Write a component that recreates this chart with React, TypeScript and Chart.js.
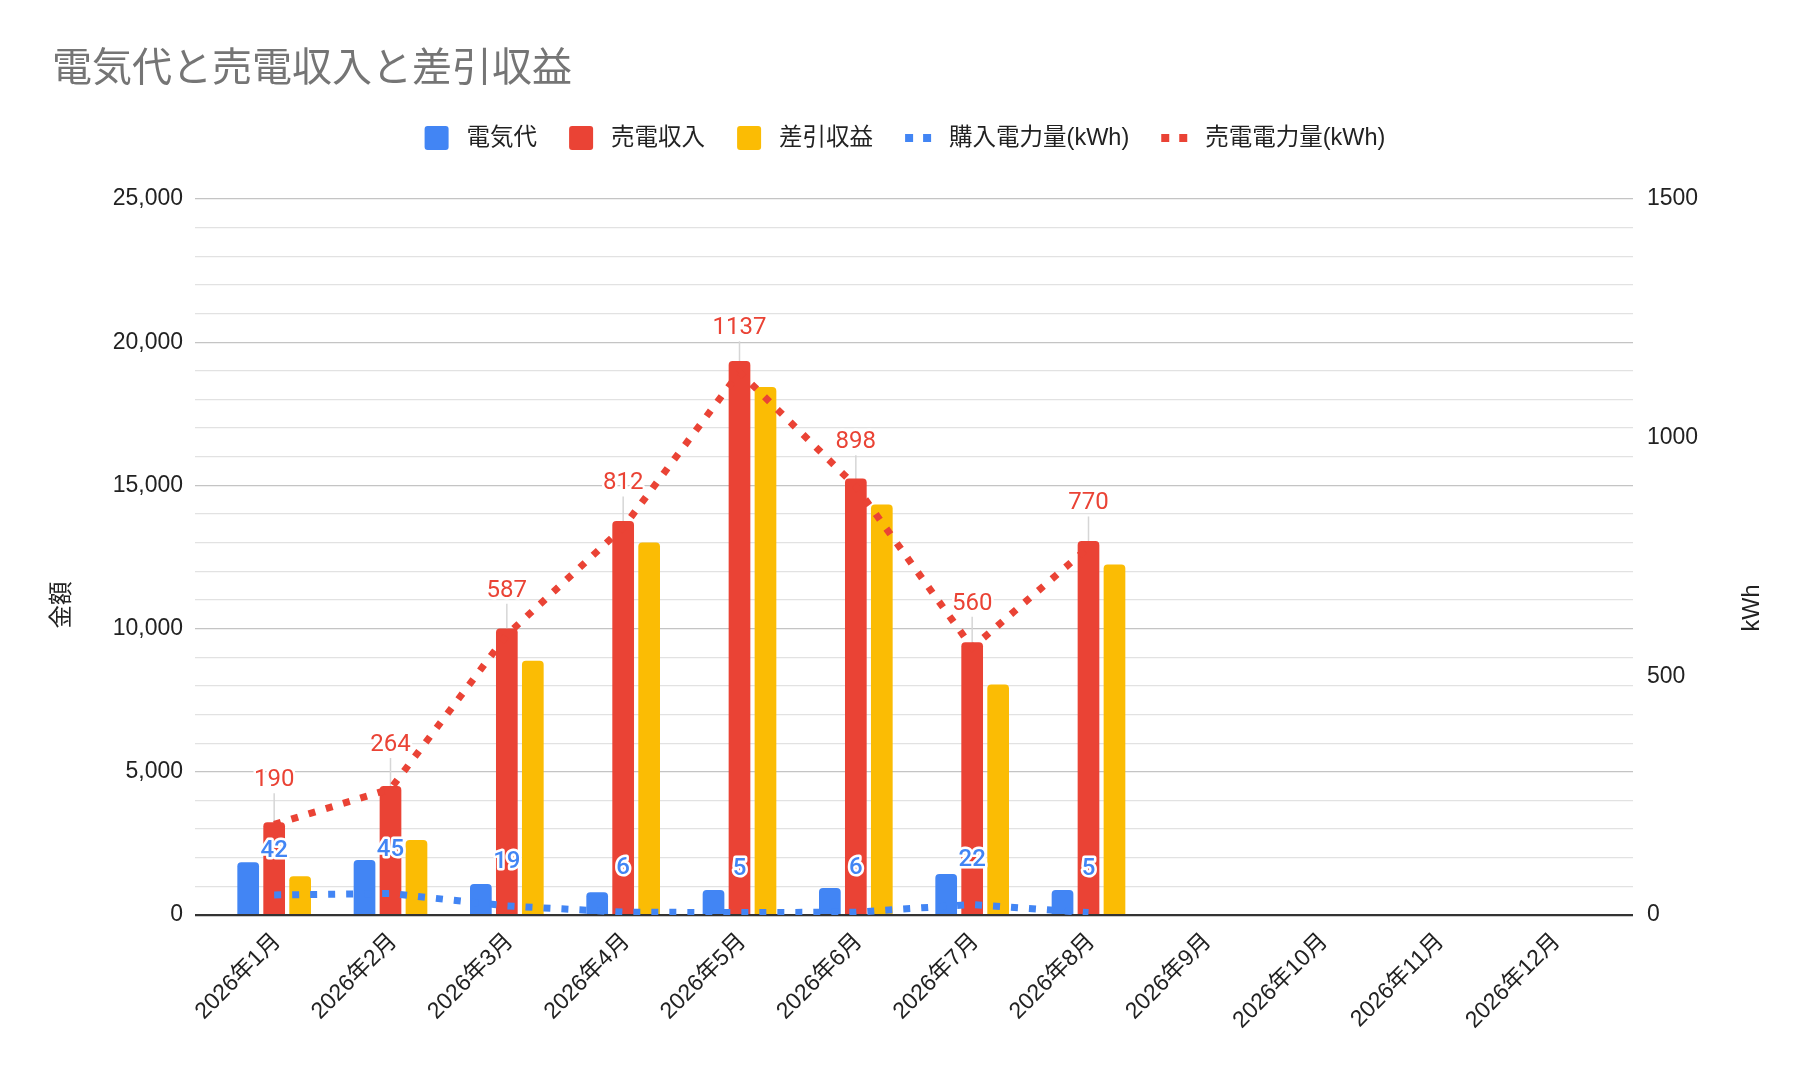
import React, { useEffect, useRef } from 'react';
import { Chart, registerables, CategoryScale } from 'chart.js';

Chart.register(...registerables);

// ---------------- data ----------------
const chartTitle = '電気代と売電収入と差引収益';
const leftAxisTitle = '金額';
const rightAxisTitle = 'kWh';

const months = [
  '2026年1月', '2026年2月', '2026年3月', '2026年4月', '2026年5月', '2026年6月',
  '2026年7月', '2026年8月', '2026年9月', '2026年10月', '2026年11月', '2026年12月',
];

const seriesNames = ['電気代', '売電収入', '差引収益', '購入電力量(kWh)', '売電電力量(kWh)'];

const electricityCost = [1840, 1920, 1080, 790, 870, 940, 1430, 870, null, null, null, null];
const sellIncome = [3235, 4500, 10000, 13760, 19345, 15240, 9520, 13060, null, null, null, null];
const netProfit = [1350, 2620, 8875, 13005, 18440, 14330, 8050, 12240, null, null, null, null];
const purchasedKWh = [42, 45, 19, 6, 5, 6, 22, 5, null, null, null, null];
const soldKWh = [190, 264, 587, 812, 1137, 898, 560, 770, null, null, null, null];

const leftAxisMax = 25000;
const leftMinorStep = 1000;
const leftMajorStep = 5000;
const rightAxisMax = 1500;
const rightStep = 500;

// ---------------- style ----------------
const BLUE = '#4285F4';
const RED = '#EA4335';
const YELLOW = '#FBBC04';
const TEXT = '#222222';
const LATIN = "'Liberation Sans', 'Noto Sans CJK JP', sans-serif";
const CJK = "'Noto Sans CJK JP', 'Liberation Sans', sans-serif";
const X_EDGE_PAD = 21;

class PaddedCategoryScale extends CategoryScale {
  static id = 'paddedCategory';
  configure() {
    super.configure();
    const self = this as any;
    self._startPixel += X_EDGE_PAD;
    self._endPixel -= X_EDGE_PAD;
    self._length = self._endPixel - self._startPixel;
  }
}
Chart.register(PaddedCategoryScale as any);

const LABEL_OFFSET = 44;

const decorPlugin = {
  id: 'decor',
  beforeDraw(chart: any) {
    const { ctx, width, height } = chart;
    ctx.save();
    ctx.fillStyle = '#ffffff';
    ctx.fillRect(0, 0, width, height);
    ctx.restore();
  },
  beforeDatasetsDraw(chart: any) {
    const { ctx } = chart;
    ctx.save();
    ctx.strokeStyle = '#d6d6d6';
    ctx.lineWidth = 1.5;
    chart.data.datasets.forEach((ds: any, i: number) => {
      if (ds.type !== 'line') return;
      const meta = chart.getDatasetMeta(i);
      meta.data.forEach((pt: any, j: number) => {
        if (ds.data[j] == null || pt.skip) return;
        ctx.beginPath();
        ctx.moveTo(pt.x, pt.y - LABEL_OFFSET + 13);
        ctx.lineTo(pt.x, pt.y);
        ctx.stroke();
      });
    });
    ctx.restore();
  },
  afterDatasetsDraw(chart: any) {
    const { ctx } = chart;
    ctx.save();
    ctx.textAlign = 'center';
    ctx.textBaseline = 'middle';
    ctx.lineJoin = 'round';
    chart.data.datasets.forEach((ds: any, i: number) => {
      if (ds.type !== 'line') return;
      const meta = chart.getDatasetMeta(i);
      ctx.font = (i === 3 ? '500 ' : '') + '24px Roboto, ' + LATIN;
      meta.data.forEach((pt: any, j: number) => {
        const v = ds.data[j];
        if (v == null || pt.skip) return;
        const tx = pt.x;
        const ty = pt.y - LABEL_OFFSET;
        ctx.strokeStyle = '#ffffff';
        ctx.lineWidth = 5;
        ctx.strokeText(String(v), tx, ty);
        ctx.fillStyle = ds.borderColor;
        ctx.fillText(String(v), tx, ty);
      });
    });
    ctx.restore();
  },
  afterDraw(chart: any) {
    const { ctx, width, chartArea } = chart;
    ctx.save();
    // title
    ctx.fillStyle = '#757575';
    ctx.font = '40px ' + CJK;
    ctx.textAlign = 'left';
    ctx.textBaseline = 'middle';
    ctx.fillText(chartTitle, 52, 66);

    // legend
    const items = [
      { kind: 'box', color: BLUE, label: seriesNames[0] },
      { kind: 'box', color: RED, label: seriesNames[1] },
      { kind: 'box', color: YELLOW, label: seriesNames[2] },
      { kind: 'line', color: BLUE, label: seriesNames[3] },
      { kind: 'line', color: RED, label: seriesNames[4] },
    ];
    ctx.font = '23.5px ' + LATIN;
    const markerW = (k: string) => (k === 'box' ? 24 : 26);
    const gapMT = 18;
    const gapItems = 32;
    let total = 0;
    items.forEach((it, idx) => {
      total += markerW(it.kind) + gapMT + ctx.measureText(it.label).width;
      if (idx < items.length - 1) total += gapItems;
    });
    let x = width / 2 - total / 2 + 2;
    const ly = 138;
    items.forEach((it) => {
      ctx.fillStyle = it.color;
      if (it.kind === 'box') {
        ctx.beginPath();
        (ctx as any).roundRect(x, ly - 12, 24, 24, 3);
        ctx.fill();
      } else {
        ctx.fillRect(x, ly - 4, 8, 8);
        ctx.fillRect(x + 18, ly - 4, 8, 8);
      }
      x += markerW(it.kind) + gapMT;
      ctx.fillStyle = TEXT;
      ctx.textAlign = 'left';
      ctx.fillText(it.label, x, ly + 1);
      x += ctx.measureText(it.label).width + gapItems;
    });

    // axis titles
    const titleY = (chartArea.top + chartArea.bottom) / 2 + 48;
    ctx.fillStyle = TEXT;
    ctx.textAlign = 'center';
    ctx.save();
    ctx.translate(60, titleY);
    ctx.rotate(-Math.PI / 2);
    ctx.font = '23.5px ' + CJK;
    ctx.fillText(leftAxisTitle, 0, 0);
    ctx.restore();
    ctx.save();
    ctx.translate(chartArea.right + 120, titleY + 3);
    ctx.rotate(-Math.PI / 2);
    ctx.font = '23.5px ' + LATIN;
    ctx.fillText(rightAxisTitle, 0, 0);
    ctx.restore();
    ctx.restore();
  },
};

function buildConfig(): any {
  const tickFont = { family: LATIN, size: 23 };
  return {
    type: 'bar',
    data: {
      labels: months,
      datasets: [
        {
          type: 'bar', label: seriesNames[0], data: electricityCost, backgroundColor: BLUE,
          borderRadius: 4, borderSkipped: 'start', categoryPercentage: 0.67, barPercentage: 0.835,
          yAxisID: 'y', order: 1,
        },
        {
          type: 'bar', label: seriesNames[1], data: sellIncome, backgroundColor: RED,
          borderRadius: 4, borderSkipped: 'start', categoryPercentage: 0.67, barPercentage: 0.835,
          yAxisID: 'y', order: 1,
        },
        {
          type: 'bar', label: seriesNames[2], data: netProfit, backgroundColor: YELLOW,
          borderRadius: 4, borderSkipped: 'start', categoryPercentage: 0.67, barPercentage: 0.835,
          yAxisID: 'y', order: 1,
        },
        {
          type: 'line', label: seriesNames[3], data: purchasedKWh, borderColor: BLUE, backgroundColor: BLUE,
          borderWidth: 7, borderDash: [7, 11], borderCapStyle: 'butt', pointRadius: 0, pointHoverRadius: 0,
          fill: false, tension: 0, yAxisID: 'y1', order: 0,
        },
        {
          type: 'line', label: seriesNames[4], data: soldKWh, borderColor: RED, backgroundColor: RED,
          borderWidth: 7, borderDash: [7, 11], borderCapStyle: 'butt', pointRadius: 0, pointHoverRadius: 0,
          fill: false, tension: 0, yAxisID: 'y1', order: 0,
        },
      ],
    },
    options: {
      responsive: false,
      animation: false,
      devicePixelRatio: 1,
      layout: { padding: { top: 199, left: 0, right: 0, bottom: 0 } },
      plugins: {
        legend: { display: false },
        title: { display: false },
        tooltip: { enabled: false },
      },
      scales: {
        x: {
          type: 'paddedCategory',
          grid: { display: false, drawTicks: false },
          border: { display: false },
          ticks: {
            autoSkip: false, maxRotation: 45, minRotation: 45, padding: 13, labelOffset: 3,
            color: TEXT, font: tickFont,
          },
          afterFit: (s: any) => { s.height = 161; },
        },
        y: {
          position: 'left', min: 0, max: leftAxisMax,
          ticks: {
            stepSize: leftMinorStep, autoSkip: false, padding: 12, color: TEXT, font: tickFont,
            callback: (v: number) => (v % leftMajorStep === 0 ? v.toLocaleString('en-US') : ''),
          },
          grid: {
            drawTicks: false,
            color: (c: any) => (c.tick.value === 0 ? '#333333' : c.tick.value % leftMajorStep === 0 ? '#c4c4c4' : '#e2e2e2'),
            lineWidth: (c: any) => (c.tick.value === 0 ? 2.2 : 1.3),
          },
          border: { display: false },
          afterFit: (s: any) => { s.width = 195; },
        },
        y1: {
          position: 'right', min: 0, max: rightAxisMax,
          ticks: {
            stepSize: rightStep, autoSkip: false, padding: 14, color: TEXT, font: tickFont,
            callback: (v: number) => String(v),
          },
          grid: { display: false, drawTicks: false },
          border: { display: false },
          afterFit: (s: any) => { s.width = 173; },
        },
      },
    },
    plugins: [decorPlugin],
  };
}

export default function App() {
  const ref = useRef<HTMLCanvasElement | null>(null);
  useEffect(() => {
    document.body.style.margin = '0';
    document.body.style.overflow = 'hidden';
    const chart = new Chart(ref.current as HTMLCanvasElement, buildConfig());
    return () => chart.destroy();
  }, []);
  return (
    <div style={{ width: 1806, height: 1076 }}>
      <canvas ref={ref} width={1806} height={1076} style={{ display: 'block' }} />
    </div>
  );
}
